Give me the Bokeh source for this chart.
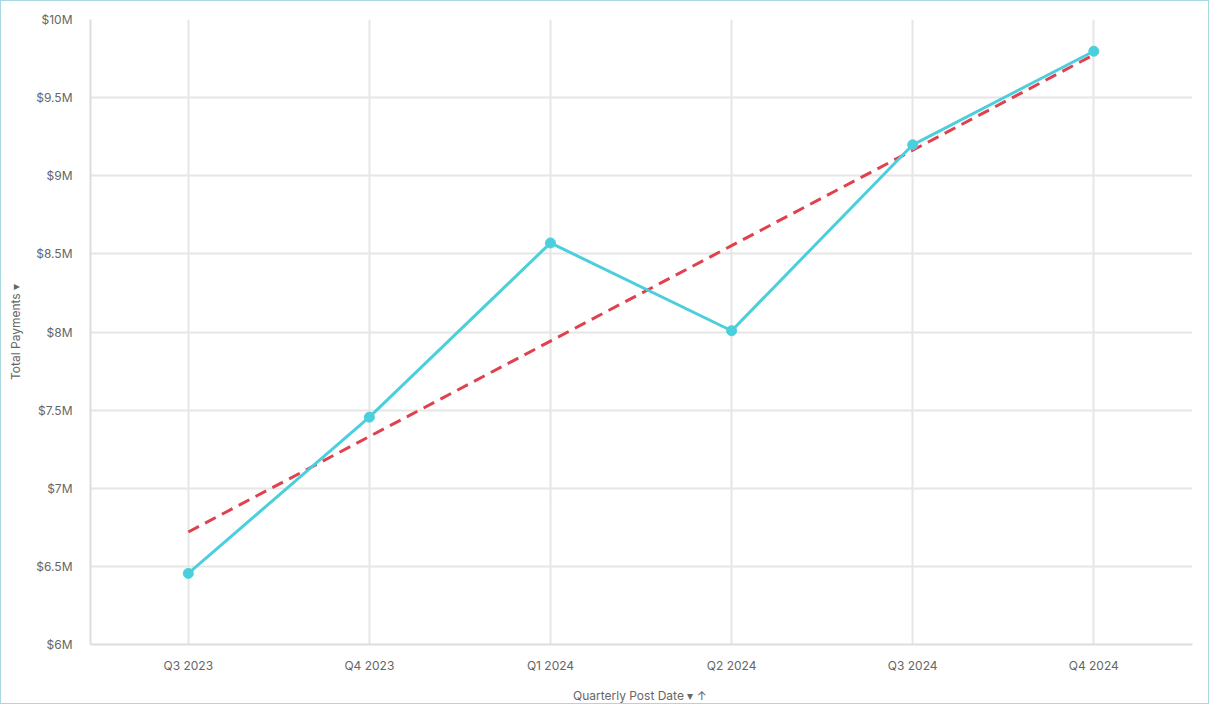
import numpy as np
from bokeh.plotting import figure
from bokeh.models import ColumnDataSource, FixedTicker
from bokeh.embed import file_html
from bokeh.resources import INLINE

quarters = ["Q3 2023", "Q4 2023", "Q1 2024", "Q2 2024", "Q3 2024", "Q4 2024"]
payments = [6.455, 7.455, 8.57, 8.008, 9.198, 9.797]  # $M
y_ticks = [6, 6.5, 7, 7.5, 8, 8.5, 9, 9.5, 10]
y_tick_labels = ["$6M", "$6.5M", "$7M", "$7.5M", "$8M", "$8.5M", "$9M", "$9.5M", "$10M"]

xs = list(range(len(quarters)))
slope, intercept = np.polyfit(xs, payments, 1)
trend = [intercept + slope * x for x in xs]

FONT = "Inter"
TICK_COLOR = "#666666"

p = figure(width=1209, height=704, output_backend="svg", toolbar_location=None,
           x_range=(-0.54, 5.545), y_range=(6, 10),
           min_border_left=89, min_border_right=18, min_border_top=18, min_border_bottom=52)
p.styles = {"border": "1px solid #a9d8e0"}
p.outline_line_color = None
p.background_fill_color = "white"
p.border_fill_color = "white"

src = ColumnDataSource(dict(x=xs, y=payments, t=trend))
p.line("x", "t", source=src, line_color="#e0414f", line_width=3, line_dash="12 7")
p.line("x", "y", source=src, line_color="#4ccfdc", line_width=3)
p.scatter("x", "y", source=src, size=10, fill_color="#4ccfdc", line_color="#4ccfdc")

p.xaxis.ticker = FixedTicker(ticks=xs)
p.xaxis.major_label_overrides = {i: q for i, q in enumerate(quarters)}
p.yaxis.ticker = FixedTicker(ticks=y_ticks)
p.yaxis.major_label_overrides = {t: l for t, l in zip(y_ticks, y_tick_labels)}

for ax in (p.xaxis[0], p.yaxis[0]):
    ax.axis_line_color = "#dddddd"
    ax.axis_line_width = 2
    ax.major_tick_line_color = None
    ax.minor_tick_line_color = None
    ax.major_label_text_font = FONT
    ax.major_label_text_font_size = "12px"
    ax.major_label_text_color = TICK_COLOR
    ax.axis_label_text_font = FONT
    ax.axis_label_text_font_size = "12px"
    ax.axis_label_text_font_style = "normal"
    ax.axis_label_text_color = TICK_COLOR

p.xaxis.major_label_standoff = 7
p.yaxis.major_label_standoff = 12
p.xaxis.axis_label = "Quarterly Post Date \u25be  \u2191"
p.xaxis.axis_label_standoff = 12
p.yaxis.axis_label = "Total Payments \u25be"
p.yaxis.axis_label_standoff = 10

p.xgrid.grid_line_color = "#e6e6e6"
p.xgrid.grid_line_width = 2
p.ygrid.grid_line_color = "#e6e6e6"
p.ygrid.grid_line_width = 2

open("out.html", "w").write(file_html(p, INLINE))
